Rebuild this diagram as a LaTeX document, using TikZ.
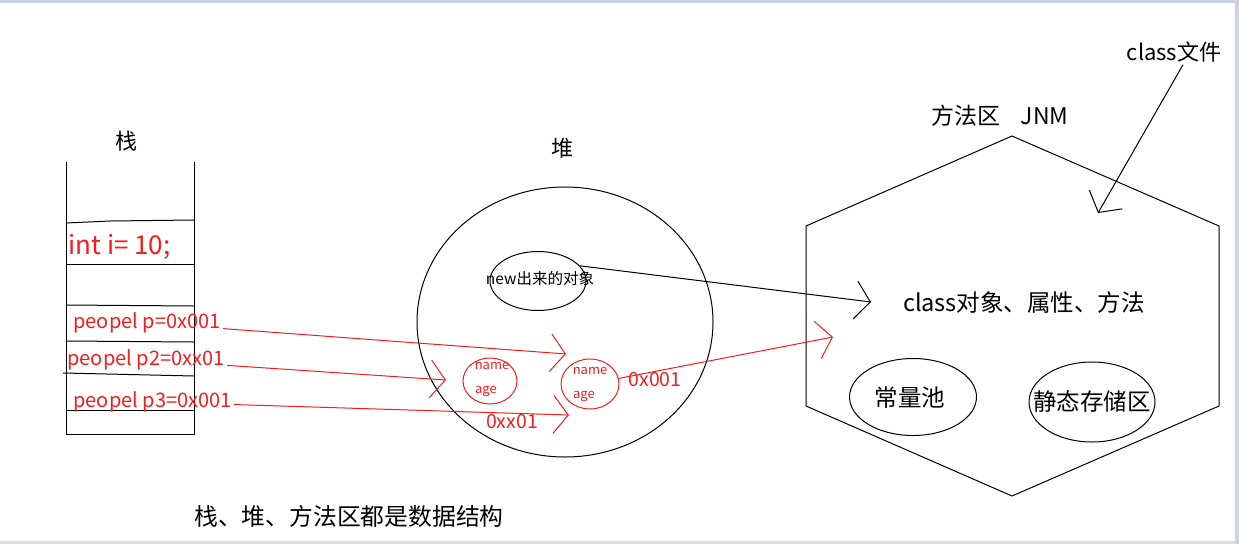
\documentclass[tikz,border=0pt]{standalone}
\usepackage{fontspec}
\setmainfont{Noto Sans CJK SC}
\usetikzlibrary{arrows.meta,shapes.geometric}
\definecolor{paintFrame}{RGB}{200,212,228}
\definecolor{paintRed}{RGB}{240,30,30}
\newcommand{\fsz}[1]{\fontsize{#1}{#1}\selectfont}

\begin{document}
\begin{tikzpicture}[
  x=1pt, y=-1pt,
  line width=1pt,
  every node/.style={align=center, inner sep=2pt},
  label/.style={font=\fsz{22}},
  slot/.style={text=paintRed, anchor=west, font=\fsz{20}},
  blob/.style={draw, ellipse, inner sep=0pt},
  redBlob/.style={blob, draw=paintRed},
  field/.style={text=paintRed, font=\fsz{13}},
  addr/.style={text=paintRed, font=\fsz{19.5}},
  flow/.style={-{Straight Barb[length=15pt,width=38pt]}},
  refFlow/.style={flow, draw=paintRed}]

\useasboundingbox (0,0) rectangle (1239,544);

% Paint canvas edges
\fill[paintFrame] (0,0) rectangle (1239,3);
\fill[paintFrame] (1235,0) rectangle (1239,544);
\fill[gray!25] (0,541) rectangle (1235,544);

% Stack
\node[label] (stackTitle) at (126,141) {栈};
\draw (66,162) -- (66,434) -- (194,434) -- (194,162);
\draw (66,223) -- (110,221) -- (194,220);
\draw (66,264) -- (194,264);
\draw (66,305) -- (194,306);
\draw (66,341) -- (194,342);
\draw (63,373) -- (194,376);
\draw (66,410) -- (194,410);

\node[slot, font=\fsz{26}] (intVar) at (66,247) {int i= 10;};
\node[slot] (pVar) at (71,323) {peopel p=0x001};
\node[slot] (pTwoVar) at (65,360) {peopel p2=0xx01};
\node[slot] (pThreeVar) at (71,402) {peopel p3=0x001};

% Heap
\node[label] (heapTitle) at (562,148) {堆};
\node[blob, minimum width=296pt, minimum height=270pt] (heap) at (565,322) {};
\node[blob, minimum width=96pt, minimum height=59pt] (newObj) at (538,281) {};
\node[font=\fsz{15.5}] (newObjText) at (540,279) {new出来的对象};

\node[redBlob, minimum width=54pt, minimum height=46pt] (objOne) at (490,381) {};
\node[field] (objOneName) at (492,366) {name};
\node[field] (objOneAge) at (486,391) {age};
\node[redBlob, minimum width=58pt, minimum height=50pt] (objTwo) at (590,384) {};
\node[field] (objTwoName) at (590,371) {name};
\node[field] (objTwoAge) at (584,396) {age};

\node[addr] (addrOne) at (655,380) {0x001};
\node[addr] (addrTwo) at (512,422) {0xx01};

% Method area
\node[font=\fsz{23}] (methodTitle) at (1000,116) {方法区\ \ \ \ JNM};
\node[label] (classFile) at (1174,52) {class文件};
\coordinate (hexTop) at (1012,136);
\coordinate (hexUpLeft) at (806,226);
\coordinate (hexUpRight) at (1219,226);
\coordinate (hexLowLeft) at (806,406);
\coordinate (hexLowRight) at (1219,406);
\coordinate (hexBottom) at (1012,496);
\draw (hexTop) -- (hexUpRight) -- (hexLowRight) -- (hexBottom)
  -- (hexLowLeft) -- (hexUpLeft) -- cycle;

\node[font=\fsz{23.5}] (classObj) at (1024,303) {class对象、属性、方法};
\node[blob, minimum width=127pt, minimum height=77pt] (constPool) at (913,397) {};
\node[font=\fsz{23.5}] (constPoolText) at (910,398) {常量池};
\node[blob, minimum width=126pt, minimum height=80pt] (staticArea) at (1092,402) {};
\node[font=\fsz{23.5}] (staticAreaText) at (1092,402) {静态存储区};

\node[font=\fsz{23.8}] (summary) at (349,516) {栈、堆、方法区都是数据结构};

% Arrow tips
\coordinate (pTip) at (566,354);
\coordinate (pTwoTip) at (446,380);
\coordinate (pThreeTip) at (569,415);
\coordinate (addrTip) at (833,337);
\coordinate (classTip) at (871,302);
\coordinate (fileTip) at (1098,213);

% Draw the references
\draw[refFlow] (pVar) -- (pTip);
\draw[refFlow] (pTwoVar) -- (pTwoTip);
\draw[refFlow] (pThreeVar) -- (pThreeTip);
\draw[refFlow] (objTwo) -- (addrTip);
\draw[flow] (newObj.20) -- (classTip);
\draw[flow] ([xshift=9pt]classFile.south) -- (fileTip);

\end{tikzpicture}
\end{document}
